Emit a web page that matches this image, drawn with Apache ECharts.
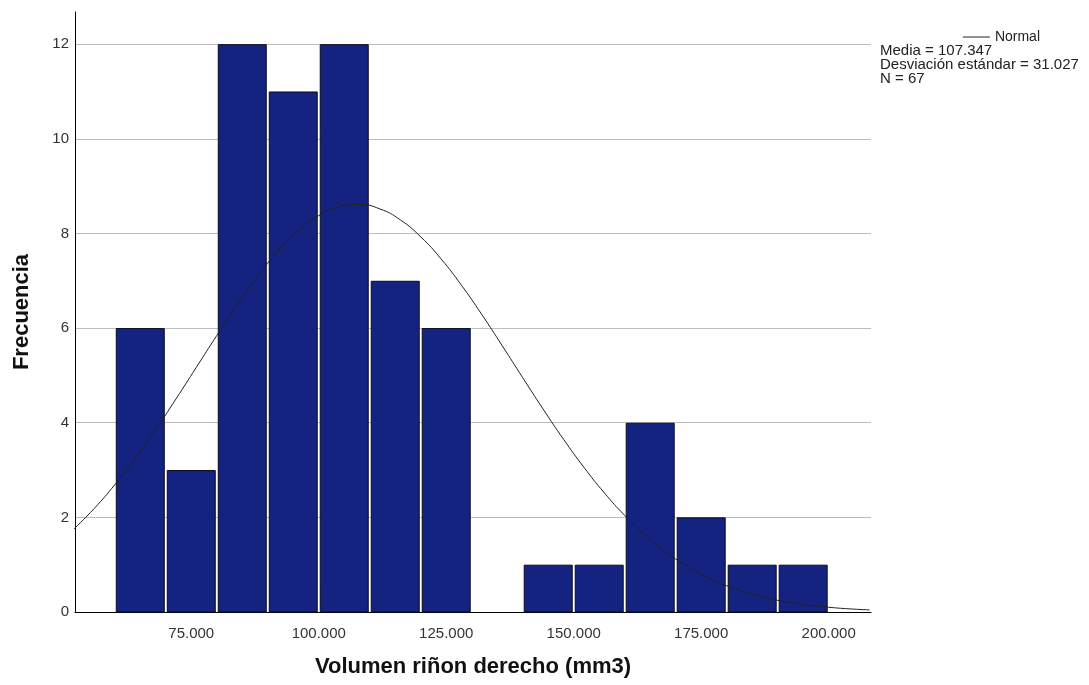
<!DOCTYPE html>
<html>
<head>
<meta charset="utf-8">
<script src="https://cdn.jsdelivr.net/npm/echarts@6/dist/echarts.min.js"></script>
<style>
html,body{margin:0;padding:0;background:#fff;}
#chart{width:1089px;height:685px;}
</style>
</head>
<body>
<div id="chart"></div>
<script>
// Histogram bins (lower edge, width 10) and counts
const binStarts = [60, 70, 80, 90, 100, 110, 120, 130, 140, 150, 160, 170, 180, 190];
const binWidth = 10;
const counts = [6, 3, 12, 11, 12, 7, 6, 0, 1, 1, 4, 2, 1, 1];

// Normal curve points
const curveX = [52, 56, 60, 64, 68, 72, 76, 80, 84, 88, 92, 96, 100, 104, 108, 112, 116, 120, 124, 128, 132, 136, 140, 144, 148, 152, 156, 160, 164, 168, 172, 176, 180, 184, 188, 192, 196, 200, 204, 208];
const curveY = [1.755, 2.191, 2.690, 3.246, 3.855, 4.502, 5.172, 5.842, 6.491, 7.093, 7.623, 8.058, 8.377, 8.565, 8.613, 8.518, 8.287, 7.928, 7.460, 6.903, 6.283, 5.625, 4.952, 4.288, 3.651, 3.058, 2.519, 2.041, 1.627, 1.275, 0.983, 0.745, 0.556, 0.407, 0.294, 0.208, 0.145, 0.100, 0.067, 0.045];

// Axis tick labels
const xTickValues = [75, 100, 125, 150, 175, 200];
const xTickLabels = ['75.000', '100.000', '125.000', '150.000', '175.000', '200.000'];
const yTickValues = [0, 2, 4, 6, 8, 10, 12];

const statsLines = ['Media = 107.347', 'Desviación estándar = 31.027', 'N = 67'];

const FONT = 'Arial, "Liberation Sans", sans-serif';

const barData = binStarts.map((s, i) => [s, s + binWidth, counts[i]]).filter(d => d[2] > 0);
const lineData = curveX.map((x, i) => [x, curveY[i]]);

const chart = echarts.init(document.getElementById('chart'));
chart.setOption({
  animation: false,
  backgroundColor: '#ffffff',
  grid: { left: 75, right: 218, top: 12, bottom: 73, containLabel: false },
  legend: {
    right: 44, top: 25,
    itemWidth: 27, itemHeight: 10, itemGap: 4,
    textStyle: { fontFamily: FONT, fontSize: 14, color: '#222' },
    data: [{ name: 'Normal', icon: 'path://M0,5 L27,5 L27,6 L0,6 Z' }]
  },
  xAxis: {
    type: 'value',
    min: 52.2, max: 208.3,
    name: 'Volumen riñon derecho (mm3)',
    nameLocation: 'middle', nameGap: 44,
    nameTextStyle: { fontFamily: FONT, fontSize: 22, fontWeight: 'bold', color: '#111' },
    axisLine: { show: true, lineStyle: { color: '#000', width: 1 } },
    axisTick: { show: false },
    splitLine: { show: false },
    axisLabel: {
      customValues: xTickValues,
      formatter: v => xTickLabels[xTickValues.indexOf(v)] || '',
      fontFamily: FONT, fontSize: 15, color: '#333', margin: 14
    }
  },
  yAxis: {
    type: 'value',
    min: 0, max: 12.68, interval: 2,
    name: 'Frecuencia',
    nameLocation: 'middle', nameGap: 42,
    nameTextStyle: { fontFamily: FONT, fontSize: 22, fontWeight: 'bold', color: '#111' },
    axisLine: { show: true, lineStyle: { color: '#000', width: 1 } },
    axisTick: { show: false },
    axisLabel: {
      customValues: yTickValues,
      fontFamily: FONT, fontSize: 15, color: '#333', margin: 6
    },
    splitLine: { show: true, showMinLine: false, showMaxLine: false, lineStyle: { color: '#bdbdbd', width: 1 } }
  },
  series: [
    {
      type: 'custom',
      name: 'Frecuencia',
      data: barData,
      encode: { x: [0, 1], y: 2 },
      z: 2,
      renderItem: (params, api) => {
        const x0 = api.value(0), x1 = api.value(1), y = api.value(2);
        const p0 = api.coord([x0, y]);
        const p1 = api.coord([x1, 0]);
        return {
          type: 'rect',
          shape: { x: p0[0] + 1.5, y: p0[1] + 0.5, width: p1[0] - p0[0] - 3, height: p1[1] - p0[1] - 0.5 },
          style: { fill: '#14237f', stroke: '#0a0a1e', lineWidth: 1 }
        };
      }
    },
    {
      type: 'line',
      name: 'Normal',
      data: lineData,
      smooth: true,
      symbol: 'none',
      z: 5,
      lineStyle: { color: '#222', width: 1 },
      itemStyle: { color: '#222' }
    }
  ],
  graphic: [{
    type: 'text',
    left: 880, top: 43,
    style: {
      text: statsLines.join('\n'),
      font: '15px ' + FONT,
      fill: '#222',
      lineHeight: 14.3
    }
  }]
});
</script>
</body>
</html>
